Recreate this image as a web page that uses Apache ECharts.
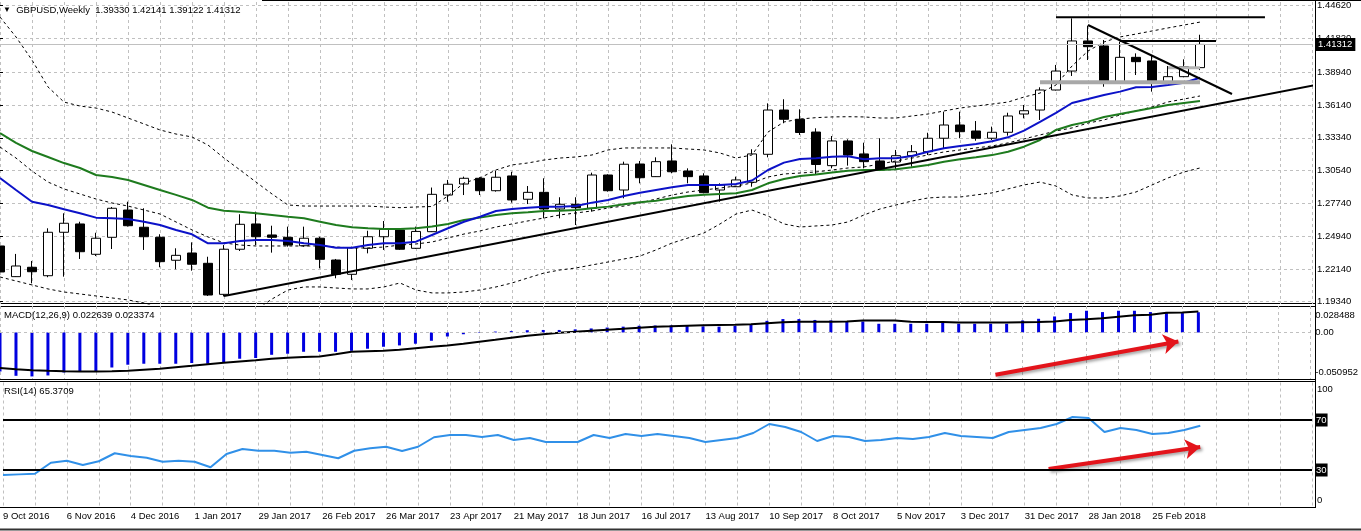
<!DOCTYPE html>
<html><head><meta charset="utf-8">
<script src="https://cdn.jsdelivr.net/npm/echarts@6/dist/echarts.min.js"></script>
<style>html,body{margin:0;padding:0;background:#fff}#c{width:1361px;height:531px}</style>
</head><body><div id="c"></div>
<script>
const symbolName = 'GBPUSD', periodName = 'Weekly';
const weekLabels = ['9 Oct 2016','6 Nov 2016','4 Dec 2016','1 Jan 2017','29 Jan 2017','26 Feb 2017','26 Mar 2017','23 Apr 2017','21 May 2017','18 Jun 2017','16 Jul 2017','13 Aug 2017','10 Sep 2017','8 Oct 2017','5 Nov 2017','3 Dec 2017','31 Dec 2017','28 Jan 2018','25 Feb 2018'];
const opens = [1.2410,1.2148,1.2228,1.2156,1.2527,1.2598,1.2339,1.2484,1.2717,1.2570,
1.2484,1.2288,1.2350,1.2262,1.1997,1.2382,1.2598,1.2504,1.2484,1.2412,
1.2476,1.2290,1.2168,1.2390,1.2489,1.2546,1.2390,1.2532,1.2845,1.2939,
1.2988,1.2882,1.3008,1.2809,1.2868,1.2726,1.2766,1.2732,1.3016,1.2888,
1.3110,1.3002,1.3136,1.3050,1.3008,1.2888,1.2916,1.2954,1.3193,1.3571,
1.3492,1.3383,1.3096,1.3307,1.3196,1.3136,1.3127,1.3181,1.3215,1.3330,
1.3443,1.3392,1.3330,1.3381,1.3537,1.3571,1.3742,1.3904,1.4161,1.4118,
1.3813,1.4021,1.3990,1.3813,1.3856,1.39330];
const closes = [1.2188,1.2239,1.2190,1.2527,1.2604,1.2361,1.2476,1.2732,1.2583,1.2489,
1.2276,1.2330,1.2254,1.1991,1.2382,1.2595,1.2489,1.2484,1.2418,1.2476,
1.2296,1.2168,1.2395,1.2489,1.2552,1.2382,1.2534,1.2851,1.2937,1.2988,
1.2882,1.2997,1.2803,1.2868,1.2726,1.2766,1.2737,1.3016,1.2882,1.3108,
1.2993,1.3130,1.3044,1.3002,1.2865,1.2931,1.2974,1.3196,1.3571,1.3492,
1.3379,1.3106,1.3307,1.3187,1.3130,1.3059,1.3181,1.3215,1.3330,1.3443,
1.3386,1.3330,1.3381,1.3520,1.3565,1.3742,1.3904,1.4161,1.4112,1.3813,
1.4021,1.3984,1.3813,1.3856,1.3941,1.41312];
const lows = [1.2154,1.2145,1.2091,1.2143,1.2148,1.2299,1.2324,1.2384,1.2576,1.2376,
1.2228,1.2211,1.2199,1.1983,1.1979,1.2367,1.2418,1.2353,1.2404,1.2404,
1.2219,1.2134,1.2119,1.2347,1.2376,1.2376,1.2384,1.2529,1.2788,1.2845,
1.2845,1.2874,1.2780,1.2768,1.2646,1.2646,1.2589,1.2703,1.2874,1.2817,
1.2945,1.2999,1.3031,1.2945,1.2860,1.2788,1.2914,1.2916,1.3167,1.3458,
1.3358,1.3025,1.3073,1.3096,1.3073,1.3050,1.3059,1.3087,1.3187,1.3244,
1.3330,1.3309,1.3315,1.3352,1.3500,1.3486,1.3738,1.3862,1.3998,1.3770,
1.3799,1.3870,1.3728,1.3810,1.3851,1.39122];
const highs = [1.2444,1.2342,1.2282,1.2561,1.2689,1.2617,1.2523,1.2743,1.2788,1.2732,
1.2510,1.2390,1.2441,1.2318,1.2418,1.2681,1.2703,1.2583,1.2575,1.2575,
1.2489,1.2299,1.2404,1.2540,1.2623,1.2552,1.2575,1.2909,1.2974,1.3002,
1.2997,1.3053,1.3044,1.2922,1.2988,1.2826,1.2826,1.3036,1.3022,1.3130,
1.3136,1.3167,1.3278,1.3073,1.3031,1.2945,1.3002,1.3236,1.3628,1.3663,
1.3577,1.3415,1.3349,1.3321,1.3292,1.3330,1.3230,1.3272,1.3377,1.3557,
1.3557,1.3477,1.3429,1.3548,1.3614,1.3765,1.3956,1.4354,1.4291,1.4169,
1.4155,1.4055,1.4041,1.3947,1.4004,1.42141];
const blueMA = [1.2991,1.2888,1.2788,1.2760,1.2723,1.2689,1.2652,1.2647,1.2640,1.2617,
1.2589,1.2547,1.2510,1.2433,1.2433,1.2453,1.2461,1.2461,1.2453,1.2433,
1.2418,1.2395,1.2395,1.2418,1.2433,1.2433,1.2447,1.2504,1.2561,1.2617,
1.2660,1.2709,1.2726,1.2737,1.2746,1.2746,1.2751,1.2780,1.2803,1.2837,
1.2865,1.2888,1.2911,1.2931,1.2931,1.2931,1.2939,1.2969,1.3059,1.3122,
1.3153,1.3159,1.3172,1.3176,1.3150,1.3159,1.3159,1.3178,1.3215,1.3244,
1.3264,1.3281,1.3305,1.3338,1.3395,1.3469,1.3546,1.3631,1.3665,1.3700,
1.3728,1.3765,1.3768,1.3785,1.3804,1.3847];
const greenMA = [1.3375,1.3290,1.3221,1.3170,1.3118,1.3076,1.3016,1.2999,1.2974,1.2931,
1.2888,1.2846,1.2803,1.2737,1.2711,1.2703,1.2689,1.2675,1.2660,1.2647,
1.2617,1.2589,1.2569,1.2561,1.2555,1.2555,1.2561,1.2576,1.2598,1.2632,
1.2652,1.2675,1.2689,1.2698,1.2709,1.2711,1.2717,1.2732,1.2746,1.2766,
1.2783,1.2797,1.2817,1.2837,1.2848,1.2854,1.2860,1.2888,1.2945,1.2982,
1.3008,1.3020,1.3038,1.3053,1.3059,1.3059,1.3065,1.3082,1.3102,1.3130,
1.3150,1.3167,1.3186,1.3215,1.3258,1.3315,1.3401,1.3443,1.3472,1.3511,
1.3537,1.3563,1.3588,1.3614,1.3631,1.3648];
const bbUpper = [1.4365,1.4195,1.3998,1.3768,1.3639,1.3605,1.3588,1.3554,1.3503,1.3452,
1.3401,1.3366,1.3341,1.3272,1.3161,1.3059,1.2956,1.2854,1.2760,1.2751,
1.2751,1.2751,1.2751,1.2751,1.2743,1.2737,1.2743,1.2747,1.2837,1.2948,
1.2991,1.3059,1.3102,1.3119,1.3144,1.3161,1.3170,1.3187,1.3230,1.3247,
1.3247,1.3247,1.3247,1.3238,1.3230,1.3204,1.3161,1.3187,1.3383,1.3469,
1.3494,1.3506,1.3512,1.3514,1.3512,1.3503,1.3503,1.3520,1.3537,1.3563,
1.3588,1.3605,1.3622,1.3639,1.3682,1.3716,1.3785,1.3947,1.4075,1.4152,
1.4195,1.4220,1.4246,1.4272,1.4297,1.4322];
const bbMiddle = [1.3255,1.3161,1.3050,1.2956,1.2897,1.2854,1.2811,1.2777,1.2751,1.2717,
1.2683,1.2615,1.2547,1.2487,1.2436,1.2418,1.2410,1.2410,1.2410,1.2410,
1.2410,1.2401,1.2393,1.2393,1.2401,1.2418,1.2427,1.2444,1.2478,1.2512,
1.2538,1.2572,1.2598,1.2624,1.2649,1.2675,1.2692,1.2709,1.2734,1.2751,
1.2777,1.2811,1.2845,1.2871,1.2888,1.2905,1.2922,1.2948,1.2999,1.3025,
1.3033,1.3042,1.3059,1.3076,1.3085,1.3110,1.3136,1.3161,1.3187,1.3213,
1.3230,1.3247,1.3264,1.3290,1.3324,1.3358,1.3392,1.3418,1.3460,1.3486,
1.3529,1.3563,1.3597,1.3640,1.3665,1.3691];
const bbLower = [1.2145,1.2111,1.2077,1.2043,1.2017,1.2000,1.1983,1.1966,1.1949,1.1923,
1.1881,1.1830,1.1761,1.1710,1.1710,1.1778,1.1863,1.1957,1.2034,1.2060,
1.2060,1.2051,1.2043,1.2043,1.2060,1.2094,1.2034,1.2009,1.2009,1.2017,
1.2034,1.2060,1.2094,1.2137,1.2179,1.2205,1.2222,1.2248,1.2273,1.2299,
1.2324,1.2376,1.2435,1.2478,1.2521,1.2598,1.2683,1.2717,1.2666,1.2598,
1.2572,1.2581,1.2589,1.2615,1.2675,1.2726,1.2760,1.2794,1.2820,1.2828,
1.2828,1.2846,1.2863,1.2897,1.2931,1.2956,1.2922,1.2846,1.2820,1.2820,
1.2837,1.2871,1.2931,1.2991,1.3042,1.3076];
const macdHist = [-0.0436,-0.0485,-0.0492,-0.0481,-0.0448,-0.0436,-0.0436,-0.0392,-0.0361,-0.0350,
-0.0350,-0.0350,-0.0342,-0.0350,-0.0339,-0.0294,-0.0286,-0.0250,-0.0238,-0.0216,
-0.0216,-0.0216,-0.0205,-0.0182,-0.0160,-0.0145,-0.0126,-0.0093,-0.0045,-0.0020,
-0.0005,0.0010,0.0015,0.0025,0.0028,0.0028,0.0035,0.0045,0.0055,0.0065,
0.0075,0.0078,0.0080,0.0072,0.0068,0.0065,0.0072,0.0090,0.0130,0.0150,
0.0150,0.0140,0.0135,0.0125,0.0123,0.0097,0.0097,0.0097,0.0097,0.0123,
0.0097,0.0097,0.0097,0.0097,0.0134,0.0153,0.0179,0.0217,0.0243,0.0228,
0.0243,0.0243,0.0228,0.0217,0.0217,0.022639];
const macdSignal = [-0.0398,-0.0412,-0.0423,-0.0429,-0.0434,-0.0436,-0.0436,-0.0434,-0.0429,-0.0417,
-0.0406,-0.0389,-0.0373,-0.0356,-0.0339,-0.0325,-0.0311,-0.0294,-0.0283,-0.0275,
-0.0269,-0.0244,-0.0216,-0.0210,-0.0205,-0.0194,-0.0177,-0.0160,-0.0145,-0.0126,
-0.0104,-0.0082,-0.0059,-0.0037,-0.0020,-0.0003,0.0008,0.0019,0.0030,0.0041,
0.0053,0.0064,0.0069,0.0075,0.0081,0.0084,0.0086,0.0092,0.0103,0.0114,
0.0120,0.0120,0.0120,0.0123,0.0134,0.0134,0.0133,0.0120,0.0118,0.0116,
0.0112,0.0112,0.0112,0.0112,0.0114,0.0116,0.0123,0.0139,0.0148,0.0159,
0.0176,0.0192,0.0198,0.0220,0.0224,0.023374];
const rsi = [26.0,26.5,27.0,35.8,37.4,34.0,37.0,43.4,41.2,39.8,
36.6,37.4,36.6,32.2,42.8,46.8,45.4,45.4,43.8,44.6,
42.0,39.4,45.4,47.4,48.6,45.2,48.6,56.2,58.0,58.0,
56.4,58.0,54.0,55.6,52.4,52.4,52.4,58.0,55.6,58.8,
57.2,58.8,57.2,55.6,52.4,54.0,55.6,59.6,66.8,64.4,
60.4,53.2,57.2,56.4,53.2,54.0,55.6,54.8,56.4,59.6,
57.2,56.4,55.6,60.4,62.0,63.6,66.8,72.4,71.6,60.4,
63.6,62.0,58.8,59.6,62.0,65.3709];
const priceTicks = [1.19340,1.22140,1.24940,1.27740,1.30540,1.33340,1.36140,1.38940,1.41820,1.44620];
const macdTicks = [-0.050952, 0, 0.028488];
const rsiTicks = [0, 100];
const rsiLevels = [70, 30];
// drawn objects: [barIndex, price]
const trendUp = [[14, 1.1983], [82.19, 1.3784]];
const trendDown = [[68, 1.4297], [77, 1.3708]];
const resistTop = [[66, 1.4363], [79.06, 1.4363]];
const resistMid = [[70, 1.4161], [76, 1.4161]];
const supportGray = [[65, 1.3808], [75, 1.3808]];
const supportGray2 = [[73, 1.3933], [75, 1.3933]];
const macdArrow = [[62.3, -0.0473], [73.75, -0.0101]];
const rsiArrow = [[65.5, 30.8], [75, 48.4]];

const N_SLOTS = 83;
const cats = Array.from({length: N_SLOTS}, (_, i) => String(i));
const FONT = 'Liberation Sans';
const FS = 9.5;
const gridLine = {color: '#c0c0c0', width: 1, type: [3, 3]};
const last = opens.length - 1;
const candleData = opens.map((o, i) => [o, closes[i], lows[i], highs[i]]);
const W = 1312;

const catX = (gi, labels) => ({
  type: 'category', gridIndex: gi, data: cats, boundaryGap: false,
  axisLine: {show: false}, axisTick: {show: false},
  axisLabel: labels ? {
    show: true, interval: (i) => i % 4 === 0 && i / 4 < weekLabels.length,
    formatter: (v, i) => weekLabels[Math.round(Number(v) / 4)] || '',
    align: 'left', margin: 4, color: '#000', fontFamily: FONT, fontSize: FS
  } : {show: false},
  splitLine: {show: true, interval: (i) => i % 2 === 0, lineStyle: gridLine}
});
const valX = (gi) => ({type: 'value', gridIndex: gi, min: 0, max: N_SLOTS - 1, show: false});
const lbl = {color: '#000', fontFamily: FONT, fontSize: FS};
const titleStyle = {fontFamily: FONT, fontSize: FS, fontWeight: 'normal', color: '#000'};

const option = {
  animation: false,
  backgroundColor: '#fff',
  title: [
    {text: '{t|▼}  ' + symbolName + ',' + periodName + '  ' + [opens[last], highs[last], lows[last], closes[last]].map(v => v.toFixed(5)).join(' '),
      left: 3, top: 5, padding: 0, textStyle: Object.assign({rich: {t: {fontSize: 8, color: '#000'}}}, titleStyle)},
    {text: 'MACD(12,26,9) ' + macdHist[last].toFixed(6) + ' ' + macdSignal[last].toFixed(6), left: 4, top: 310, padding: 0,
      textStyle: titleStyle},
    {text: 'RSI(14) ' + rsi[last].toFixed(4), left: 4, top: 386, padding: 0, textStyle: titleStyle}
  ],
  grid: [
    {left: 0, width: W, top: 2, height: 302},
    {left: 0, width: W, top: 306, height: 73},
    {left: 0, width: W, top: 382.5, height: 125}
  ],
  xAxis: [catX(0, false), catX(1, false), catX(2, true), valX(0), valX(1), valX(2)],
  yAxis: [
    {type: 'value', gridIndex: 0, position: 'right', min: 1.19144, max: 1.44936,
      axisLine: {show: false},
      axisTick: {show: true, length: 3, customValues: priceTicks, lineStyle: {color: '#000'}},
      axisLabel: Object.assign({customValues: priceTicks, formatter: v => v.toFixed(5), margin: 5}, lbl),
      splitLine: {show: true, lineStyle: gridLine}},
    {type: 'value', gridIndex: 1, position: 'right', min: -0.052071, max: 0.029607,
      axisLine: {show: false},
      axisTick: {show: true, length: 3, customValues: [0], lineStyle: {color: '#000'}},
      axisLabel: Object.assign({customValues: macdTicks, margin: 5,
        formatter: v => v === 0 ? '0.00' : (v > 0 ? '{t|' + v.toFixed(6) + '}' : '{b|' + v.toFixed(6) + '}'),
        rich: {t: Object.assign({padding: [16, 0, 0, 0]}, lbl), b: Object.assign({padding: [0, 0, 12, 0]}, lbl)}}, lbl),
      splitLine: {show: false}},
    {type: 'value', gridIndex: 2, position: 'right', min: 0, max: 100,
      axisLine: {show: false},
      axisTick: {show: false, customValues: rsiTicks},
      axisLabel: Object.assign({customValues: rsiTicks, margin: 5,
        formatter: v => v === 100 ? '{t|100}' : '{b|0}',
        rich: {t: Object.assign({padding: [13, 0, 0, 0]}, lbl), b: Object.assign({padding: [0, 0, 15, 0]}, lbl)}}, lbl),
      splitLine: {show: false}}
  ],
  graphic: [
    {type: 'line', shape: {x1: 262, y1: 0.5, x2: 1361, y2: 0.5}, style: {stroke: '#000', lineWidth: 1}},
    {type: 'line', shape: {x1: 0, y1: 303.5, x2: 1316, y2: 303.5}, style: {stroke: '#000', lineWidth: 1}},
    {type: 'line', shape: {x1: 0, y1: 306.5, x2: 1316, y2: 306.5}, style: {stroke: '#000', lineWidth: 1}},
    {type: 'line', shape: {x1: 0, y1: 379.5, x2: 1316, y2: 379.5}, style: {stroke: '#000', lineWidth: 1}},
    {type: 'line', shape: {x1: 0, y1: 381.5, x2: 1316, y2: 381.5}, style: {stroke: '#000', lineWidth: 1}},
    {type: 'line', shape: {x1: 0, y1: 507.5, x2: 1316, y2: 507.5}, style: {stroke: '#000', lineWidth: 1}},
    {type: 'line', shape: {x1: 1315.5, y1: 0, x2: 1315.5, y2: 508}, style: {stroke: '#000', lineWidth: 1}},
    {type: 'line', shape: {x1: 0, y1: 529.5, x2: 1361, y2: 529.5}, style: {stroke: '#333', lineWidth: 2}}
  ],
  series: [
    {type: 'candlestick', xAxisIndex: 0, yAxisIndex: 0, data: candleData, barWidth: 9,
      itemStyle: {color: '#fff', color0: '#000', borderColor: '#000', borderColor0: '#000', borderWidth: 1},
      markLine: {silent: true, symbol: 'none', animation: false, precision: 5,
        lineStyle: {color: '#c0c0c0', width: 1, type: 'solid'},
        label: {show: true, position: 'end', distance: 3, formatter: closes[last].toFixed(5), color: '#fff', backgroundColor: '#000',
          padding: [2, 3, 1, 3], fontFamily: FONT, fontSize: FS},
        data: [{yAxis: closes[last]}]}},
    {type: 'line', xAxisIndex: 0, yAxisIndex: 0, data: bbUpper, symbol: 'none', lineStyle: {color: '#000', width: 1, type: [3, 3]}},
    {type: 'line', xAxisIndex: 0, yAxisIndex: 0, data: bbMiddle, symbol: 'none', lineStyle: {color: '#000', width: 1, type: [3, 3]}},
    {type: 'line', xAxisIndex: 0, yAxisIndex: 0, data: bbLower, symbol: 'none', lineStyle: {color: '#000', width: 1, type: [3, 3]}},
    {type: 'line', xAxisIndex: 0, yAxisIndex: 0, data: greenMA, symbol: 'none', lineStyle: {color: '#1e7b1e', width: 2}},
    {type: 'line', xAxisIndex: 0, yAxisIndex: 0, data: blueMA, symbol: 'none', lineStyle: {color: '#0c12c8', width: 2}},
    {type: 'line', xAxisIndex: 3, yAxisIndex: 0, data: supportGray, symbol: 'none', lineStyle: {color: '#a8a8a8', width: 4}},
    {type: 'line', xAxisIndex: 3, yAxisIndex: 0, data: supportGray2, symbol: 'none', lineStyle: {color: '#b4b4b4', width: 3}},
    {type: 'line', xAxisIndex: 3, yAxisIndex: 0, data: trendUp, symbol: 'none', clip: false, lineStyle: {color: '#000', width: 2}},
    {type: 'line', xAxisIndex: 3, yAxisIndex: 0, data: trendDown, symbol: 'none', lineStyle: {color: '#000', width: 2}},
    {type: 'line', xAxisIndex: 3, yAxisIndex: 0, data: resistTop, symbol: 'none', lineStyle: {color: '#000', width: 2}},
    {type: 'line', xAxisIndex: 3, yAxisIndex: 0, data: resistMid, symbol: 'none', lineStyle: {color: '#000', width: 2}},
    {type: 'bar', xAxisIndex: 1, yAxisIndex: 1, data: macdHist, barWidth: 3, itemStyle: {color: '#0000e0'},
      markLine: {silent: true, symbol: 'none', animation: false, precision: 6, label: {show: false}, lineStyle: gridLine, data: [{yAxis: 0}]}},
    {type: 'line', xAxisIndex: 1, yAxisIndex: 1, data: macdSignal, symbol: 'none', lineStyle: {color: '#000', width: 2}},
    {type: 'lines', coordinateSystem: 'cartesian2d', xAxisIndex: 4, yAxisIndex: 1, symbol: ['none', 'arrow'], symbolSize: 15,
      lineStyle: {color: '#e3141b', width: 4, opacity: 1, shadowColor: 'rgba(0,0,0,0.35)', shadowBlur: 3, shadowOffsetX: 2, shadowOffsetY: 2},
      data: [{coords: macdArrow}]},
    {type: 'line', xAxisIndex: 2, yAxisIndex: 2, data: rsi, symbol: 'none', lineStyle: {color: '#3090e8', width: 2},
      markLine: {silent: true, symbol: 'none', animation: false, precision: 2, lineStyle: {color: '#000', width: 2, type: 'solid'},
        label: {show: true, position: 'end', distance: 3, formatter: p => String(p.value), color: '#fff', backgroundColor: '#000',
          padding: [2, 1, 1, 1], fontFamily: FONT, fontSize: FS},
        data: rsiLevels.map(v => ({yAxis: v}))}},
    {type: 'lines', coordinateSystem: 'cartesian2d', xAxisIndex: 5, yAxisIndex: 2, symbol: ['none', 'arrow'], symbolSize: 15,
      lineStyle: {color: '#e3141b', width: 4, opacity: 1, shadowColor: 'rgba(0,0,0,0.35)', shadowBlur: 3, shadowOffsetX: 2, shadowOffsetY: 2},
      data: [{coords: rsiArrow}]}
  ]
};
const chart = echarts.init(document.getElementById('c'), null, {renderer: 'canvas'});
chart.setOption(option);
</script>
</body></html>
